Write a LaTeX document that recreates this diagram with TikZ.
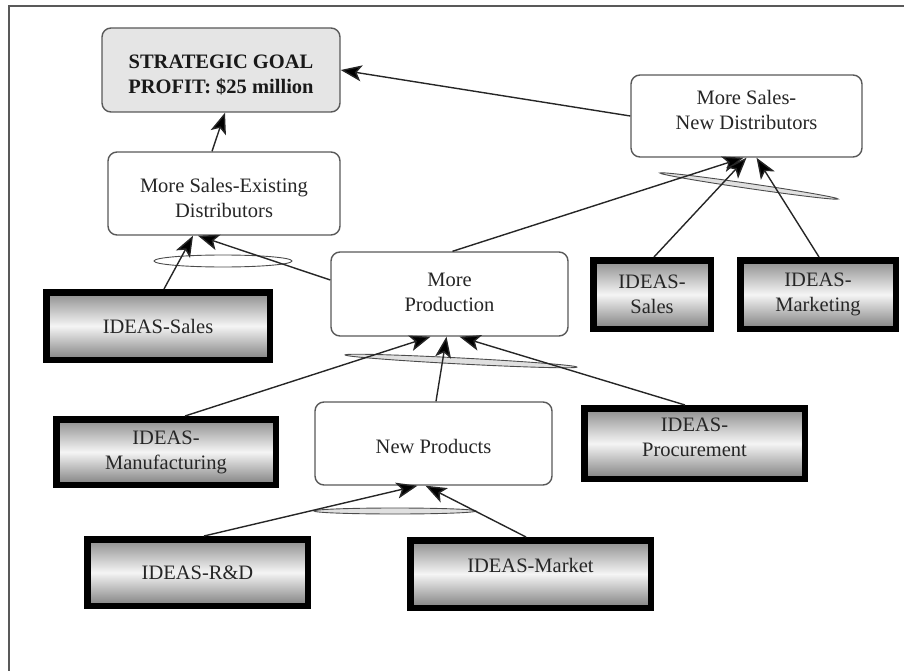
\documentclass[tikz,border=0pt]{standalone}
\usepackage{fontspec}
\setmainfont{Liberation Serif}
\usetikzlibrary{arrows.meta,calc}
\begin{document}
\begin{tikzpicture}[x=1pt,y=-1pt,
  txt/.style={font=\fontsize{20.5}{25}\selectfont, text=black!85, align=center},
  txtb/.style={font=\bfseries\fontsize{20.5}{25}\selectfont, text=black!90, align=center},
  rbox/.style={draw=black!65, line width=1.4pt, rounded corners=9pt, fill=white, inner sep=0pt},
  ibox/.style={draw=black, line width=6.5pt, top color=black!45, bottom color=black!50, middle color=black!4, inner sep=0pt, txt},
  conn/.style={draw=black!85, line width=1.4pt, -{Stealth[length=21pt,width=16pt,inset=5pt,fill=black]}},
  andarc/.style={draw=black!70, line width=0.9pt, fill=black!12},
  frame/.style={draw=black!65, line width=2pt},
]
\useasboundingbox (0,0) rectangle (904,671);
\draw[frame] (9,671) -- (9,6) -- (904,6);

% rounded boxes
\node[rbox, fill=black!10, minimum width=238pt, minimum height=84pt,
  label={[txtb, yshift=-5pt]center:STRATEGIC GOAL\\PROFIT: \$25 million}] (goal) at (221,70) {};
\node[rbox, minimum width=232pt, minimum height=83pt,
  label={[txt, yshift=-4pt]center:More Sales-Existing\\Distributors}] (msed) at (224,193.5) {};
\node[rbox, minimum width=231pt, minimum height=82pt,
  label={[txt, yshift=6pt]center:More Sales-\\New Distributors}] (msnd) at (746.5,116) {};
\node[rbox, minimum width=237pt, minimum height=84pt,
  label={[txt, yshift=1.5pt]center:More\\Production}] (mp) at (449.5,294) {};
\node[rbox, minimum width=237pt, minimum height=83pt,
  label={[txt, yshift=-3pt]center:New Products}] (np) at (433.5,443.5) {};

% IDEAS boxes
\node[ibox, minimum width=223.5pt, minimum height=67.5pt] (isl) at (158,326) {IDEAS-Sales};
\node[ibox, minimum width=117.5pt, minimum height=68.5pt] (isr) at (652,294.5) {IDEAS-\\Sales};
\node[ibox, minimum width=155.5pt, minimum height=68.5pt] (imk) at (818,294.5) {IDEAS-\\Marketing};
\node[ibox, minimum width=219.5pt, minimum height=65.5pt] (imf) at (166,452) {IDEAS-\\Manufacturing};
\node[ibox, minimum width=220.5pt, minimum height=70.5pt,
  label={[txt, yshift=6.5pt]center:IDEAS-\\Procurement}] (ipr) at (694.5,443.5) {};
\node[ibox, minimum width=220.5pt, minimum height=66.5pt] (ird) at (197.5,572.5) {IDEAS-R\&D};
\node[ibox, minimum width=240.5pt, minimum height=67.5pt,
  label={[txt, yshift=9pt]center:IDEAS-Market}] (imt) at (530.5,574) {};

% AND markers
\draw[andarc, fill=white] (223,261) ellipse [x radius=69pt, y radius=6pt];
\draw[andarc, rotate around={-8.3:(749,186)}] (749,186) ellipse [x radius=90pt, y radius=2.5pt];
\draw[andarc, rotate around={-3:(461,361)}] (461,361) ellipse [x radius=116pt, y radius=3pt];
\draw[andarc] (395,511) ellipse [x radius=81pt, y radius=3pt];

% connectors
\draw[conn] ([xshift=-12pt]msed.north) -- ([xshift=4pt]goal.south);
\draw[conn] (msnd.west) -- (goal.east);
\draw[conn] ([xshift=6pt]isl.north) -- ([xshift=-31pt]msed.south);
\draw[conn] ([yshift=14pt]mp.west) -- ([xshift=-26pt]msed.south);
\draw[conn] ([xshift=3pt]mp.north) -- ([xshift=-3pt]msnd.south);
\draw[conn] ([xshift=2pt]isr.north) -- (msnd.south);
\draw[conn] ([xshift=1pt]imk.north) -- ([xshift=10pt]msnd.south);
\draw[conn] ([xshift=19pt]imf.north) -- ([xshift=-19pt]mp.south);
\draw[conn] ([xshift=2.5pt]np.north) -- ([xshift=-3pt]mp.south);
\draw[conn] ([xshift=-9.5pt]ipr.north) -- ([xshift=10pt]mp.south);
\draw[conn] ([xshift=6.5pt]ird.north) -- ([xshift=-16pt]np.south);
\draw[conn] ([xshift=-4.5pt]imt.north) -- ([xshift=-8pt]np.south);
\end{tikzpicture}
\end{document}
